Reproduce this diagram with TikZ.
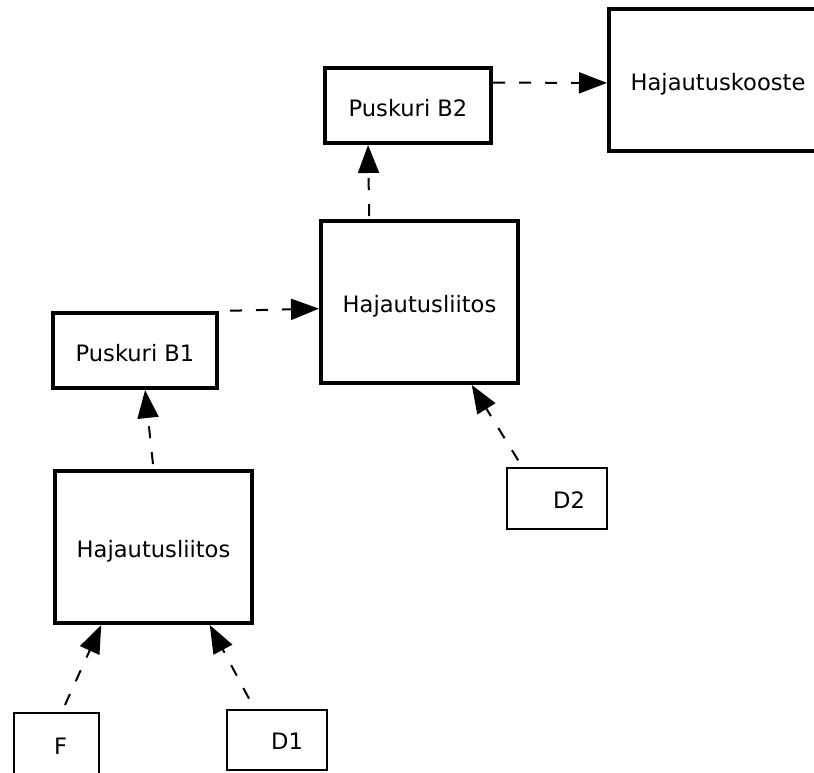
\documentclass[tikz,border=0pt]{standalone}
\usepackage{fontspec}
\setmainfont{DejaVu Sans}
\usetikzlibrary{arrows.meta,calc}

\begin{document}
\begin{tikzpicture}[x=0.5pt,y=-0.5pt,
    bigbox/.style={draw, line width=2pt, text height=13pt, text depth=2.5pt, font=\fontsize{11.3}{13}\selectfont},
    smallbox/.style={draw, line width=0.8pt, text height=12pt, text depth=2.5pt, font=\fontsize{11.3}{13}\selectfont},
    flow/.style={line width=1pt, dash pattern=on 6pt off 7pt, -{Triangle[length=14pt,width=10.5pt]}}]
    \useasboundingbox (0,0) rectangle (814,772);

    % upper part
    \node[bigbox, minimum width=109pt, minimum height=71pt] (koos) at (718,80) {Hajautuskooste};
    \node[bigbox, minimum width=83pt, minimum height=37.5pt] (b2) at (408,105.5) {Puskuri B2};
    \node[bigbox, minimum width=98.5pt, minimum height=81pt] (uph) at (419.5,302) {Hajautusliitos};
    \node[smallbox, minimum width=50pt, minimum height=30.5pt] (d2) at (557,498.5) {\hspace*{12pt}D2};

    % lower part
    \node[bigbox, minimum width=82pt, minimum height=37.5pt] (b1) at (135,350.5) {Puskuri B1};
    \node[bigbox, minimum width=98.5pt, minimum height=76pt] (lowh) at (153.5,547) {Hajautusliitos};
    \node[smallbox, minimum width=42.5pt, minimum height=32pt] (f) at (56.5,745) {\hspace*{4pt}F};
    \node[smallbox, minimum width=50pt, minimum height=30pt] (d1) at (277,740) {\hspace*{10pt}D1};

    % connectors
    \draw[flow, shorten <=4pt] ($(f.north west)!0.56!(f.north east)$) -- ($(lowh.south west)!0.24!(lowh.south east)$);
    \draw[flow, shorten <=6pt] ($(d1.north west)!0.28!(d1.north east)$) -- ($(lowh.south west)!0.78!(lowh.south east)$);
    \draw[flow, shorten <=2.5pt] ($(lowh.north west)!0.5!(lowh.north east)$) -- ($(b1.south west)!0.56!(b1.south east)$);
    \draw[flow, shorten <=5.5pt] (b1.north east) -- ($(uph.north west)!0.54!(uph.south west)$);
    \draw[flow, shorten <=4pt] ($(d2.north west)!0.16!(d2.north east)$) -- ($(uph.south west)!0.76!(uph.south east)$);
    \draw[flow, shorten <=1.5pt] ($(uph.north west)!0.25!(uph.north east)$) -- ($(b2.south west)!0.265!(b2.south east)$);
    \draw[flow] ($(b2.north east)!0.21!(b2.south east)$) -- ($(koos.north west)!0.52!(koos.south west)$);
\end{tikzpicture}
\end{document}
